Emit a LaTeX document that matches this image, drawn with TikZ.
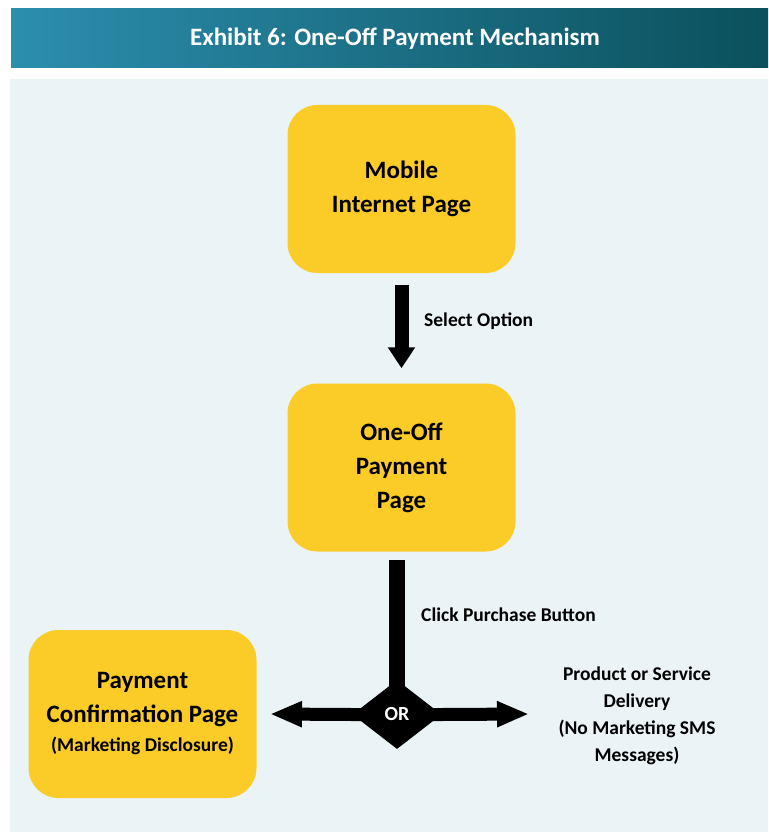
\documentclass[tikz,border=0pt]{standalone}
\usepackage{fontspec}
\setmainfont{Carlito}
\usetikzlibrary{shapes.geometric,arrows.meta}
\definecolor{panelbg}{HTML}{EAF3F6}
\definecolor{boxyellow}{HTML}{FBCB28}
\definecolor{headA}{HTML}{2C8EAE}
\definecolor{headB}{HTML}{0B505C}
\tikzset{
  pagebox/.style={fill=boxyellow, rounded corners=30pt, minimum width=228pt,
    minimum height=168pt, align=center, inner sep=0pt,
    font=\fontsize{25}{34}\selectfont\bfseries},
  flowlabel/.style={font=\fontsize{19.5}{27}\selectfont\bfseries, inner sep=0pt},
  fatarrow/.style={line width=14pt, -{Triangle[length=21pt,width=26pt]}},
  sidearrow/.style={line width=13pt, -{Triangle[length=32pt,width=24pt]}}
}
\begin{document}
\begin{tikzpicture}[x=1pt,y=-1pt]
  \useasboundingbox (0,0) rectangle (768,832);
  \fill[white] (0,0) rectangle (768,832);
  % title banner
  \shade[left color=headA, right color=headB] (11,9) rectangle (768,68);
  \node[text=white, font=\fontsize{25}{28}\selectfont\bfseries] (title) at (395,39) {Exhibit 6: One-Off Payment Mechanism};
  % light panel
  \fill[panelbg] (10,79) rectangle (768,832);

  % pages
  \node[pagebox] (mobile) at (401.5,189) {Mobile\\Internet Page};
  \node[pagebox] (oneoff) at (401.5,467.5) {One-Off\\Payment\\Page};
  \node[pagebox] (confirm) at (142.5,714) {Payment\\Confirmation Page\\[-5pt]{\fontsize{19.5}{24}\selectfont(Marketing Disclosure)}};

  % OR junction
  \node[diamond, fill=black, inner sep=0pt, minimum width=89pt, minimum height=69pt,
        aspect=1.29, text=white, font=\fontsize{20}{22}\selectfont\bfseries] (or) at (397,714.5) {OR};

  % connectors
  \draw[fatarrow, shorten <=12pt, shorten >=15pt] (mobile.south) -- (oneoff.north);
  \draw[line width=16pt, shorten <=8pt, shorten >=-12pt] (oneoff.south -| or.north) -- (or.north);
  \coordinate (ltip) at (270,714);
  \coordinate (rtip) at (529,714);
  \draw[sidearrow, shorten <=-10pt] (or.west) -- (ltip);
  \draw[sidearrow, shorten <=-10pt] (or.east) -- (rtip);

  % labels
  \node[flowlabel, anchor=base west] (sel) at (424,326) {Select Option};
  \node[flowlabel, anchor=base west] (click) at (421,621) {Click Purchase Button};
  \node[flowlabel, align=center] (deliv) at (637,715.5) {Product or Service\\Delivery\\(No Marketing SMS\\Messages)};
\end{tikzpicture}
\end{document}
